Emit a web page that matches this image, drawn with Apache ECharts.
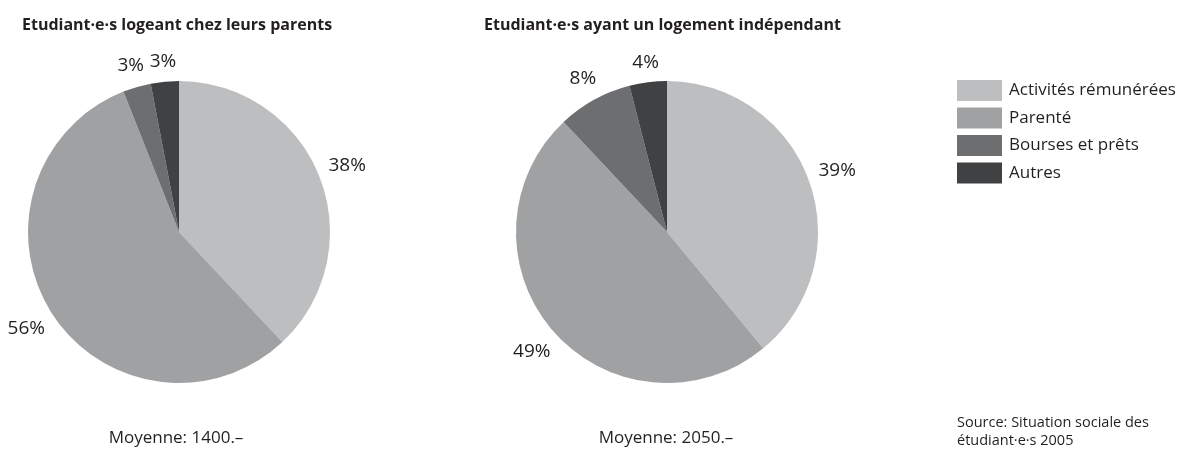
<!DOCTYPE html>
<html><head><meta charset="utf-8">
<script src="https://cdn.jsdelivr.net/npm/echarts@6/dist/echarts.min.js"></script>
<style>html,body{margin:0;padding:0;background:#fff}#c{width:1181px;height:450px}</style>
</head><body><div id="c"></div>
<script>
const categories = ['Activités rémunérées', 'Parenté', 'Bourses et prêts', 'Autres'];
const parentsValues = [38, 56, 3, 3];
const independentValues = [39, 49, 8, 4];
const titles = ['Etudiant·e·s logeant chez leurs parents', 'Etudiant·e·s ayant un logement indépendant'];
const averages = ['Moyenne: 1400.–', 'Moyenne: 2050.–'];
const sourceText = 'Source: Situation sociale des\nétudiant·e·s 2005';

const colors = ['#bdbec0', '#a0a1a3', '#6d6e70', '#404143'];
const FONT = 'Open Sans';
const TEXT = '#231f20';
const centers = [[179, 232], [667, 232]];
const R = 151;
const GAP = 9;

function toData(vals) {
  return categories.map((n, i) => ({ name: n, value: vals[i] }));
}

function pieSeries(vals, idx) {
  const c = centers[idx];
  return [
    {
      type: 'pie', center: c, radius: R, startAngle: 90, clockwise: true,
      silent: true, animation: false,
      label: { show: false }, labelLine: { show: false },
      itemStyle: { borderWidth: 0 },
      data: toData(vals)
    },
    {
      type: 'pie', center: c, radius: [R, R + 18], startAngle: 90, clockwise: true,
      silent: true, animation: false, legendHoverLink: false,
      itemStyle: { color: 'rgba(0,0,0,0)', borderWidth: 0 },
      label: { show: true, position: 'inside', formatter: '{c}%', fontFamily: FONT, fontSize: 19, color: TEXT },
      labelLine: { show: false },
      labelLayout: function (p) {
        const r = p.labelRect;
        const lx = r.x + r.width / 2, ly = r.y + r.height / 2;
        const dx = lx - c[0], dy = ly - c[1];
        const d = Math.hypot(dx, dy) || 1;
        const ux = dx / d, uy = dy / d;
        const ext = r.width / 2 * Math.abs(ux) + r.height / 2 * Math.abs(uy);
        const dist = R + GAP + ext;
        return { x: c[0] + ux * dist, y: c[1] + uy * dist };
      },
      data: toData(vals)
    }
  ];
}

const chart = echarts.init(document.getElementById('c'), null, { renderer: 'canvas' });
chart.setOption({
  animation: false,
  color: colors,
  textStyle: { fontFamily: FONT },
  title: [
    { text: titles[0], left: 22, top: 17, padding: 0, textStyle: { fontFamily: FONT, fontSize: 16, fontWeight: 'bold', color: TEXT } },
    { text: titles[1], left: 484, top: 17, padding: 0, textStyle: { fontFamily: FONT, fontSize: 16, fontWeight: 'bold', color: TEXT } },
    { text: averages[0], left: 176, top: 430, padding: 0, textAlign: 'center', textStyle: { fontFamily: FONT, fontSize: 17, fontWeight: 'normal', color: TEXT } },
    { text: averages[1], left: 666, top: 430, padding: 0, textAlign: 'center', textStyle: { fontFamily: FONT, fontSize: 17, fontWeight: 'normal', color: TEXT } },
    { text: sourceText, left: 957, top: 414, padding: 0, textStyle: { fontFamily: FONT, fontSize: 14.5, fontWeight: 'normal', color: TEXT, lineHeight: 18 } }
  ],
  legend: {
    orient: 'vertical', left: 957, top: 80, padding: 0,
    itemWidth: 45, itemHeight: 21, itemGap: 6.5,
    icon: 'rect', selectedMode: false,
    data: categories,
    textStyle: { fontFamily: FONT, fontSize: 17, color: TEXT, padding: [0, 0, 0, 2] }
  },
  series: [...pieSeries(parentsValues, 0), ...pieSeries(independentValues, 1)]
});
</script>
</body></html>
